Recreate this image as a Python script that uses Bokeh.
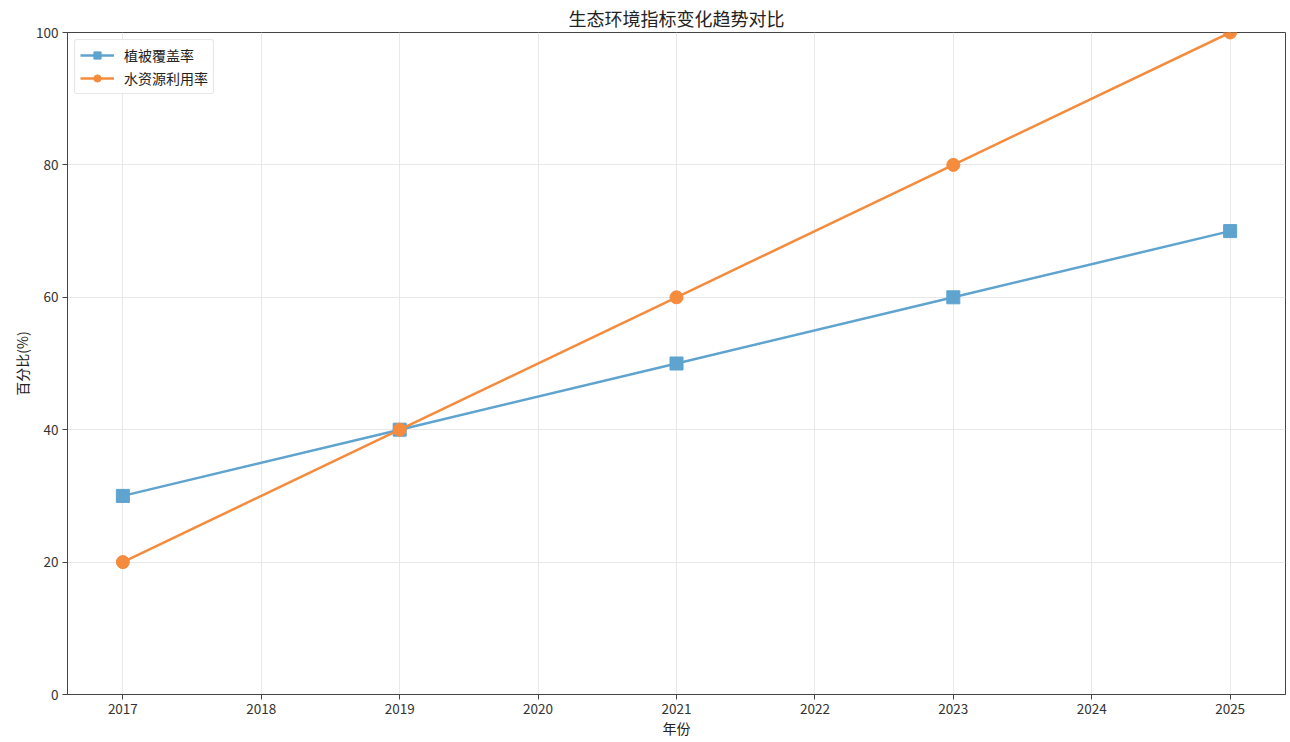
from bokeh.plotting import figure
from bokeh.models import Range1d, FixedTicker, Legend, LegendItem
from bokeh.embed import file_html
from bokeh.resources import INLINE

years = [2017, 2019, 2021, 2023, 2025]
vegetation = [30, 40, 50, 60, 70]
water = [20, 40, 60, 80, 100]
series_names = ["植被覆盖率", "水资源利用率"]
x_ticks = list(range(2017, 2026))
y_ticks = [0, 20, 40, 60, 80, 100]

FONT = "Noto Sans CJK SC"
BLUE = "#5fa3cf"
ORANGE = "#f58b3c"

p = figure(width=1288, height=740, output_backend="svg", toolbar_location=None,
           x_range=Range1d(2016.6, 2025.4), y_range=Range1d(0, 100),
           min_border_left=67, min_border_right=3, min_border_top=4, min_border_bottom=8)

p.title.text = "生态环境指标变化趋势对比"
p.title.align = "center"
p.title.text_font = FONT
p.title.text_font_size = "18px"
p.title.text_font_style = "normal"
p.title.text_color = "#222222"
p.title.offset = 0
p.title.standoff = 4

for ax in (p.xaxis[0], p.yaxis[0]):
    ax.major_label_text_font = FONT
    ax.major_label_text_font_size = "13.5px"
    ax.major_label_text_color = "#333333"
    ax.axis_label_text_font = FONT
    ax.axis_label_text_font_size = "14px"
    ax.axis_label_text_font_style = "normal"
    ax.axis_label_text_color = "#222222"
    ax.minor_tick_line_color = None
    ax.major_tick_in = 0
    ax.major_tick_out = 5
    ax.axis_line_color = "#444444"
    ax.major_tick_line_color = "#444444"
    ax.axis_label_standoff = 1

p.xaxis.ticker = FixedTicker(ticks=x_ticks)
p.yaxis.ticker = FixedTicker(ticks=y_ticks)
p.xaxis.axis_label = "年份"
p.yaxis.axis_label = "百分比(%)"
p.xaxis.major_label_standoff = 4
p.yaxis.major_label_standoff = 4

p.xgrid.grid_line_color = "#e8e8e8"
p.ygrid.grid_line_color = "#e8e8e8"
p.xgrid.grid_line_width = 1
p.ygrid.grid_line_width = 1

p.outline_line_color = "#444444"
p.outline_line_width = 1

l1 = p.line(years, vegetation, line_color=BLUE, line_width=2.5)
s1 = p.scatter(years, vegetation, marker="square", size=13, fill_color=BLUE, line_color=BLUE)
l2 = p.line(years, water, line_color=ORANGE, line_width=2.5)
s2 = p.scatter(years, water, marker="circle", size=13, fill_color=ORANGE, line_color=ORANGE)

legend = Legend(items=[LegendItem(label=series_names[0], renderers=[l1, s1]),
                       LegendItem(label=series_names[1], renderers=[l2, s2])],
                location="top_left")
legend.label_text_font = FONT
legend.label_text_font_size = "14px"
legend.label_text_color = "#222222"
legend.border_line_color = "#d0d0d0"
legend.border_line_width = 1
legend.border_radius = 3
legend.background_fill_alpha = 0.9
legend.glyph_width = 34
legend.glyph_height = 18
legend.label_height = 18
legend.spacing = 3
legend.padding = 5
legend.margin = 7
legend.label_standoff = 10
p.add_layout(legend)

open("out.html", "w").write(file_html(p, INLINE))
